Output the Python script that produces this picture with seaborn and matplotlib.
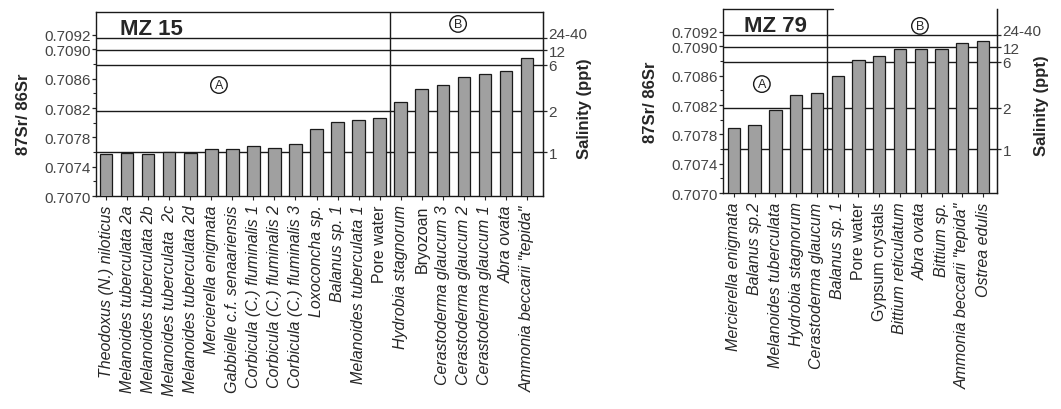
import matplotlib
matplotlib.use("Agg")
import matplotlib.pyplot as plt
import seaborn as sns
import pandas as pd

# 87Sr/86Sr of the dated shells, section MZ 15
mz15_taxa = [
    "Theodoxus (N.) niloticus", "Melanoides tuberculata 2a", "Melanoides tuberculata 2b",
    "Melanoides tuberculata  2c", "Melanoides tuberculata 2d", "Mercierella enigmata",
    "Gabbielle c.f. senaariensis", "Corbicula (C.) fluminalis 1", "Corbicula (C.) fluminalis 2",
    "Corbicula (C.) fluminalis 3", "Loxoconcha sp.", "Balanus sp. 1",
    "Melanoides tuberculata 1", "Pore water", "Hydrobia stagnorum", "Bryozoan",
    "Cerastoderma glaucum 3", "Cerastoderma glaucum 2", "Cerastoderma glaucum 1",
    "Abra ovata", "Ammonia beccarii \"tepida\"",
]
mz15_ratio = [
    0.70757, 0.70758, 0.70757, 0.70760, 0.70758, 0.70764, 0.70764, 0.70768, 0.70766,
    0.70771, 0.70792, 0.70801, 0.70804, 0.70806, 0.70828, 0.70846, 0.70852, 0.70862,
    0.70867, 0.70870, 0.70888,
]

# section MZ 79
mz79_taxa = [
    "Mercierella enigmata", "Balanus sp.2", "Melanoides tuberculata", "Hydrobia stagnorum",
    "Cerastoderma glaucum", "Balanus sp. 1", "Pore water", "Gypsum crystals",
    "Bittium reticulatum", "Abra ovata", "Bittium sp.", "Ammonia beccarii \"tepida\"",
    "Ostrea edulis",
]
mz79_ratio = [
    0.70789, 0.70793, 0.70813, 0.70834, 0.70837, 0.70859, 0.70882, 0.70887, 0.70896,
    0.70896, 0.70897, 0.70905, 0.70908,
]

ratio_ticks = [0.7070, 0.7074, 0.7078, 0.7082, 0.7086, 0.7090, 0.7092]
ratio_minor = [0.7072, 0.7076, 0.7080, 0.7084, 0.7088]
salinity_ratio = [0.70760, 0.70816, 0.70879, 0.70899, 0.70915]
salinity_labels = ["1", "2", "6", "12", "24-40"]
upright = ["Pore water", "Bryozoan", "Gypsum crystals"]

sns.set_style("ticks")
plt.rcParams['font.family'] = ['Liberation Sans', 'DejaVu Sans']

INK = '#1a1a1a'
YLIM = (0.7070, 0.70951)


def draw_panel(ax, taxa, ratio, split, name, xlim, name_pos, a_pos, b_pos,
               ylab_pos, slab_x, full_top=True):
    df = pd.DataFrame({'taxon': taxa, 'ratio': ratio})
    sns.barplot(data=df, x='taxon', y='ratio', color='#a0a0a0', saturation=1,
                width=0.6, edgecolor=INK, linewidth=0.9, ax=ax, zorder=3)

    # salinity iso-lines and the A / B split
    for s in salinity_ratio:
        ax.axhline(s, color=INK, lw=1.0, zorder=1)
    ax.axvline(split, color=INK, lw=1.0, zorder=2)

    ax.set_xlim(*xlim)
    ax.set_ylim(*YLIM)
    ax.set_yticks(ratio_ticks)
    ax.set_yticklabels([f"{t:.4f}" for t in ratio_ticks], fontsize=11, color='#444')
    ax.set_yticks(ratio_minor, minor=True)
    ax.tick_params(axis='y', which='major', length=3, width=0.9, pad=1)
    ax.tick_params(axis='y', which='minor', length=2, width=0.8)
    ax.set_xticks(range(len(taxa)))
    ax.set_xticklabels(taxa, rotation=90, fontsize=11.5)
    for lab in ax.get_xticklabels():
        if lab.get_text() not in upright:
            lab.set_style('italic')
    ax.tick_params(axis='x', length=3, width=0.8, pad=3)
    ax.set_xlabel('')
    ax.set_ylabel('87Sr/ 86Sr', fontsize=12, fontweight='bold')
    ax.yaxis.set_label_coords(*ylab_pos)

    for sp in ax.spines.values():
        sp.set_color(INK)
        sp.set_linewidth(1.0)
    if not full_top:
        ax.spines['top'].set_visible(False)
        ax.plot([0, 0.40], [1, 1], transform=ax.transAxes, color=INK, lw=1.0, clip_on=False)

    ax.text(*name_pos, name, transform=ax.transAxes, fontsize=16, fontweight='bold',
            ha='center', va='center')
    circ = dict(boxstyle='circle,pad=0.18', fc='white', ec=INK, lw=1.0)
    ax.text(*a_pos, 'A', transform=ax.transAxes, fontsize=9, ha='center', va='center',
            bbox=circ, zorder=5)
    ax.text(*b_pos, 'B', transform=ax.transAxes, fontsize=9, ha='center', va='center',
            bbox=circ, zorder=5)

    # salinity scale on the right
    sal = ax.twinx()
    sal.set_ylim(*YLIM)
    sal.set_yticks(salinity_ratio)
    sal.set_yticklabels(salinity_labels, fontsize=11, color='#444')
    sal.tick_params(axis='y', length=3, width=0.9, pad=1)
    for side in ['top', 'left', 'bottom']:
        sal.spines[side].set_visible(False)
    sal.spines['right'].set_color(INK)
    sal.set_ylabel('Salinity (ppt)', fontsize=12, fontweight='bold')
    sal.yaxis.set_label_coords(slab_x, 0.48)
    for lab in sal.get_yticklabels():
        if lab.get_text() == '24-40':
            lab.set_va('baseline')


fig = plt.figure(figsize=(10.61, 4.10), dpi=100)
ax1 = fig.add_axes([0.0905, 0.5195, 0.4213, 0.4488])
ax2 = fig.add_axes([0.6814, 0.5268, 0.2582, 0.4488])

draw_panel(ax1, mz15_taxa, mz15_ratio, 13.5, 'MZ 15', (-0.475, 20.76),
           (0.125, 0.913), (0.275, 0.603), (0.81, 0.935), (-0.145, 0.45), 1.076)
draw_panel(ax2, mz79_taxa, mz79_ratio, 4.5, 'MZ 79', (-0.53, 12.67),
           (0.193, 0.908), (0.142, 0.592), (0.719, 0.908), (-0.237, 0.5), 1.135,
           full_top=False)

fig.savefig('out.png', dpi=100, facecolor='white')
